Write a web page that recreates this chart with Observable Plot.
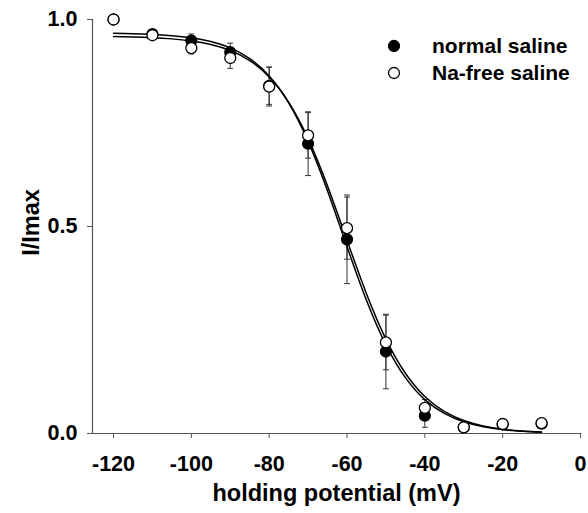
<!DOCTYPE html>
<html>
<head>
<meta charset="utf-8">
<script src="https://cdn.jsdelivr.net/npm/d3@7"></script>
<script src="https://cdn.jsdelivr.net/npm/@observablehq/plot@0.6"></script>
<style>
  html, body { margin: 0; padding: 0; background: #fff; }
  #wrap { position: relative; width: 588px; height: 513px; font-family: "Liberation Sans", Arial, sans-serif; }
  #legend { position: absolute; left: 386px; top: 32px; font-weight: bold; font-size: 21px; color: #000; }
  #legend .row { display: flex; align-items: center; height: 27px; }
  #legend svg { width: 16px; height: 16px; margin-right: 30px; }
</style>
</head>
<body>
<div id="wrap"></div>
<script>
// Measured points (holding potential, mV)
const voltages   = [-120, -110, -100, -90, -80, -70, -60, -50, -40, -30, -20, -10];
const normalMean = [1.000, 0.965, 0.949, 0.921, 0.840, 0.700, 0.469, 0.198, 0.043, 0.015, 0.022, 0.024];
const normalErr  = [0, 0.005, 0.016, 0.022, 0.045, 0.077, 0.107, 0.090, 0.028, 0.005, 0.005, 0.005];
const nafreeMean = [1.000, 0.962, 0.931, 0.907, 0.838, 0.720, 0.496, 0.220, 0.062, 0.015, 0.023, 0.025];
const nafreeErr  = [0, 0.005, 0.014, 0.025, 0.047, 0.055, 0.075, 0.066, 0.020, 0.005, 0.005, 0.005];

// Fitted curves
const fitV = [-120, -115, -110, -105, -100, -95, -90, -85, -80, -75, -70, -65, -60, -55, -50, -45, -40, -35, -30, -25, -20, -15, -10];
const normalFit = [0.9667, 0.9657, 0.9640, 0.9610, 0.9558, 0.9468, 0.9314, 0.9055, 0.8635, 0.7986, 0.7055, 0.5858, 0.4514, 0.3218, 0.2142, 0.1350, 0.0818, 0.0484, 0.0282, 0.0163, 0.0094, 0.0054, 0.0031];
const nafreeFit = [0.9587, 0.9578, 0.9561, 0.9532, 0.9482, 0.9397, 0.9251, 0.9008, 0.8614, 0.8002, 0.7122, 0.5975, 0.4667, 0.3378, 0.2280, 0.1455, 0.0893, 0.0533, 0.0313, 0.0182, 0.0105, 0.0061, 0.0035];

const xTicks = [-120, -100, -80, -60, -40, -20, 0];
const yTicks = [0, 0.5, 1.0];
const xDomain = [-125.4, 0];
const seriesNames = ["normal saline", "Na-free saline"];
const xTitle = "holding potential (mV)";
const yTitle = "I/Imax";

const normalPts = voltages.map((v, i) => ({v, m: normalMean[i], e: normalErr[i]}));
const nafreePts = voltages.map((v, i) => ({v, m: nafreeMean[i], e: nafreeErr[i]}));
const normalCurve = fitV.map((v, i) => ({v, y: normalFit[i]}));
const nafreeCurve = fitV.map((v, i) => ({v, y: nafreeFit[i]}));
const errs = [...normalPts, ...nafreePts].filter(d => d.e > 0);

const axisColor = "#555";
const chart = Plot.plot({
  width: 588, height: 513,
  marginLeft: 92, marginRight: 8, marginTop: 19, marginBottom: 80,
  style: {fontFamily: "Liberation Sans, Arial, sans-serif", background: "#fff", color: "#000"},
  x: {domain: xDomain},
  y: {domain: [0, 1]},
  marks: [
    Plot.frame({anchor: "left", stroke: axisColor, strokeWidth: 1.2}),
    Plot.frame({anchor: "bottom", stroke: axisColor, strokeWidth: 1.2}),
    Plot.axisX({ticks: xTicks, tickFormat: d => String(d), tickSize: 5, tickPadding: 17,
      fontSize: 21.5, fontWeight: "bold", stroke: axisColor, fill: "#000", label: null}),
    Plot.axisY({ticks: yTicks, tickFormat: d => d.toFixed(1), tickSize: 5, tickPadding: 10,
      fontSize: 21.5, fontWeight: "bold", stroke: axisColor, fill: "#000", label: null}),
    Plot.text([xTitle], {frameAnchor: "bottom", dy: 60, text: d => d, textAnchor: "middle", lineAnchor: "middle",
      fontSize: 23.5, fontWeight: "bold", fill: "#000"}),
    Plot.text([yTitle], {frameAnchor: "left", dx: -61, dy: -4, rotate: -90, text: d => d, textAnchor: "middle", lineAnchor: "middle",
      fontSize: 23.5, fontWeight: "bold", fill: "#000"}),
    Plot.link(errs, {x1: "v", x2: "v", y1: d => d.m - d.e, y2: d => d.m + d.e,
      stroke: "#333", strokeWidth: 1, markerStart: "tick", markerEnd: "tick"}),
    Plot.line(normalCurve, {x: "v", y: "y", curve: "natural", stroke: "#000", strokeWidth: 1.5}),
    Plot.line(nafreeCurve, {x: "v", y: "y", curve: "natural", stroke: "#000", strokeWidth: 1.5}),
    Plot.dot(normalPts, {x: "v", y: "m", r: 5.5, fill: "#000", stroke: "#000", strokeWidth: 1.2}),
    Plot.dot(nafreePts, {x: "v", y: "m", r: 5.5, fill: "#fff", stroke: "#000", strokeWidth: 1.3})
  ]
});

const wrap = document.getElementById("wrap");
wrap.appendChild(chart);
const legend = document.createElement("div");
legend.id = "legend";
legend.innerHTML = seriesNames.map((name, i) =>
  `<div class="row"><svg viewBox="0 0 16 16"><circle cx="8" cy="8" r="5.5" fill="${i === 0 ? "#000" : "#fff"}" stroke="#000" stroke-width="1.3"/></svg><span>${name}</span></div>`
).join("");
wrap.appendChild(legend);
</script>
</body>
</html>
